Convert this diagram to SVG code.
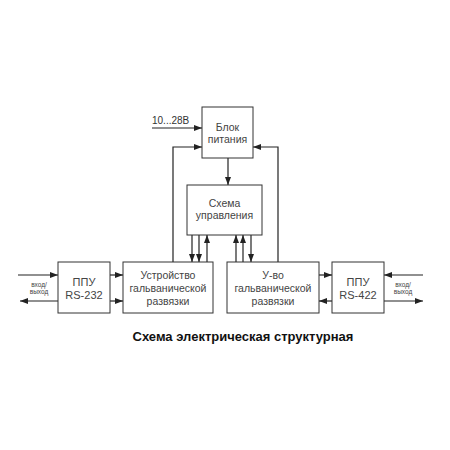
<svg xmlns="http://www.w3.org/2000/svg" width="450" height="450" viewBox="0 0 450 450">
<style>
.box{fill:#fff;stroke:#333;stroke-width:1}
.ln{fill:none;stroke:#222;stroke-width:1.2}
.t{font-family:"Liberation Sans",Arial,sans-serif;font-size:10.5px;fill:#444;text-anchor:middle}
.p{font-family:"Liberation Sans",Arial,sans-serif;font-size:11px;fill:#444;text-anchor:middle}
.s{font-family:"Liberation Sans",Arial,sans-serif;font-size:6.5px;fill:#444;text-anchor:middle}
.ttl{font-family:"Liberation Sans",Arial,sans-serif;font-size:13px;font-weight:bold;fill:#111;text-anchor:middle}
</style>
<defs>
<marker id="a" viewBox="0 0 8 6" refX="8" refY="3" markerWidth="8" markerHeight="6" markerUnits="userSpaceOnUse" orient="auto">
<path d="M0,0 L8,3 L0,6 Z" fill="#222"/>
</marker>
</defs>
<rect width="450" height="450" fill="#fff"/>
<g id="connectors">
<path class="ln" d="M152,128 H202" marker-end="url(#a)"/>
<path class="ln" d="M173,262 V147 H202" marker-end="url(#a)"/>
<path class="ln" d="M278,262 V147 H253" marker-end="url(#a)"/>
<path class="ln" d="M228,158 V185" marker-end="url(#a)"/>
<path class="ln" d="M192,235 V262" marker-end="url(#a)"/>
<path class="ln" d="M199,235 V262" marker-end="url(#a)"/>
<path class="ln" d="M207,262 V235" marker-end="url(#a)"/>
<path class="ln" d="M236,262 V235" marker-end="url(#a)"/>
<path class="ln" d="M243,262 V235" marker-end="url(#a)"/>
<path class="ln" d="M251,235 V262" marker-end="url(#a)"/>
<path class="ln" d="M110,275 H123" marker-end="url(#a)"/>
<path class="ln" d="M110,301 H123" marker-end="url(#a)"/>
<path class="ln" d="M319,275 H332" marker-end="url(#a)"/>
<path class="ln" d="M332,301 H319" marker-end="url(#a)"/>
<path class="ln" d="M18,275 H58" marker-end="url(#a)"/>
<path class="ln" d="M58,301 H20" marker-end="url(#a)"/>
<path class="ln" d="M423,275 H384" marker-end="url(#a)"/>
<path class="ln" d="M384,301 H423" marker-end="url(#a)"/>
<text x="152" y="124" font-family="Liberation Sans, Arial, sans-serif" font-size="10" fill="#333">10...28В</text>
<text class="s" x="39" y="287">вход/</text>
<text class="s" x="39" y="294">выход</text>
<text class="s" x="403" y="287">вход/</text>
<text class="s" x="403" y="294">выход</text>
</g>
<g id="power">
<rect class="box" x="202" y="107" width="51" height="51"/>
<text class="t" x="227.5" y="130.5">Блок</text>
<text class="t" x="227.5" y="142.5">питания</text>
</g>
<g id="control">
<rect class="box" x="187" y="185" width="75" height="50"/>
<text class="t" x="224.5" y="206.5">Схема</text>
<text class="t" x="224.5" y="219">управления</text>
</g>
<g id="ppu232">
<rect class="box" x="58" y="262" width="52" height="51"/>
<text class="p" x="84" y="286">ППУ</text>
<text class="p" x="84" y="299">RS-232</text>
</g>
<g id="galv1">
<rect class="box" x="123" y="262" width="90" height="51"/>
<text class="t" x="168" y="278.5">Устройство</text>
<text class="t" x="168" y="291.5">гальванической</text>
<text class="t" x="168" y="305">развязки</text>
</g>
<g id="galv2">
<rect class="box" x="227" y="262" width="92" height="51"/>
<text class="t" x="273" y="278.5">У-во</text>
<text class="t" x="273" y="291.5">гальванической</text>
<text class="t" x="273" y="305">развязки</text>
</g>
<g id="ppu422">
<rect class="box" x="332" y="262" width="52" height="51"/>
<text class="p" x="358" y="286">ППУ</text>
<text class="p" x="358" y="299">RS-422</text>
</g>
<text class="ttl" x="243" y="341">Схема электрическая структурная</text>
</svg>
